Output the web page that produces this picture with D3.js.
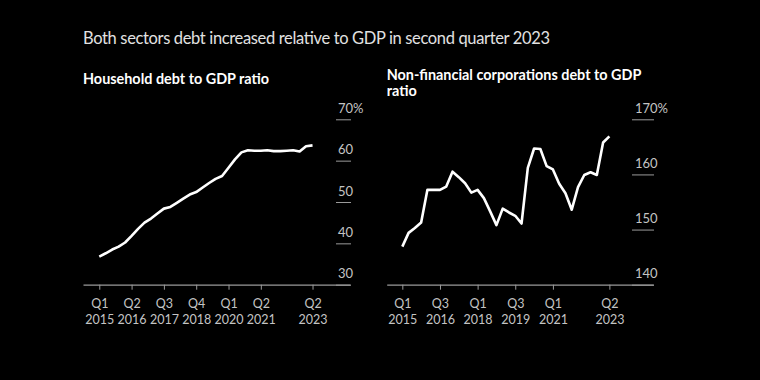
<!DOCTYPE html>
<html>
<head>
<meta charset="utf-8">
<script src="https://cdn.jsdelivr.net/npm/d3@7"></script>
<style>
  body { margin: 0; background: #000; }
  svg { display: block; font-family: Lato, "Noto Sans", sans-serif; }
</style>
</head>
<body>
<script>
// quarterly ratios, Q1 2015 .. Q2 2023 (34 quarters)
const household = [36.8, 37.6, 38.5, 39.2, 40.2, 41.8, 43.5, 45.0, 46.0, 47.2,
  48.4, 48.8, 49.8, 50.8, 51.8, 52.4, 53.5, 54.6, 55.6, 56.3,
  58.3, 60.3, 62.0, 62.5, 62.4, 62.4, 62.5, 62.3, 62.3, 62.4,
  62.5, 62.2, 63.5, 63.7];
const corporate = [146.9, 149.4, 150.3, 151.3, 157.2, 157.2, 157.2, 157.8, 160.5, 159.5,
  158.4, 156.7, 157.2, 155.7, 153.3, 150.8, 153.8, 153.1, 152.5, 151.1,
  161.2, 164.7, 164.6, 161.5, 160.9, 158.3, 156.6, 153.6, 157.7, 159.9,
  160.4, 159.9, 165.8, 166.9];

const householdTicks = [0, 5, 10, 15, 20, 25, 33];
const householdTickLabels = [["Q1", "2015"], ["Q2", "2016"], ["Q3", "2017"], ["Q4", "2018"], ["Q1", "2020"], ["Q2", "2021"], ["Q2", "2023"]];
const corporateTicks = [0, 6, 12, 18, 24, 33];
const corporateTickLabels = [["Q1", "2015"], ["Q3", "2016"], ["Q1", "2018"], ["Q3", "2019"], ["Q1", "2021"], ["Q2", "2023"]];
const householdY = [30, 40, 50, 60, 70];
const corporateY = [140, 150, 160, 170];

const svg = d3.select("body").append("svg")
  .attr("width", 760).attr("height", 380);
svg.append("rect").attr("width", 760).attr("height", 380).attr("fill", "#000");

svg.append("text")
  .attr("x", 83).attr("y", 44)
  .attr("fill", "#e2e2e2")
  .attr("textLength", 467).attr("lengthAdjust", "spacing")
  .style("font-size", "16.5px")
  .text("Both sectors debt increased relative to GDP in second quarter 2023");

function panel(cfg) {
  const g = svg.append("g");
  const x = d3.scaleLinear().domain(cfg.xDomain).range(cfg.xRange);
  const y = d3.scaleLinear().domain(cfg.yDomain).range([284.7, 119.3]);

  // title
  const t = g.append("text")
    .attr("x", cfg.xRange[0]).attr("y", cfg.titleY)
    .attr("fill", "#fff")
    .style("font-size", "14.4px").style("font-weight", "bold");
  cfg.title.forEach((line, i) => {
    t.append("tspan").attr("x", cfg.xRange[0]).attr("dy", i ? 15.5 : 0).text(line);
  });

  // y gridlines + labels
  const yAxis = g.append("g")
    .attr("transform", `translate(${cfg.gridX},0)`)
    .call(d3.axisRight(y).tickValues(cfg.yTicks).tickSize(cfg.gridW).tickFormat((d, i) =>
      i === cfg.yTicks.length - 1 ? d + "%" : d));
  yAxis.select(".domain").remove();
  yAxis.selectAll("line").attr("stroke", "#9a9a9a");
  yAxis.selectAll("text")
    .attr("x", cfg.labelDx).attr("dy", -7)
    .attr("text-anchor", "start")
    .attr("fill", "#c4c4c4")
    .style("font-size", "13px").style("font-family", "Lato, sans-serif");

  // x axis
  const xAxis = g.append("g")
    .attr("transform", "translate(0,284.7)")
    .call(d3.axisBottom(x).tickValues(cfg.xTicks).tickSize(5).tickSizeOuter(0).tickFormat(""));
  xAxis.select(".domain").attr("stroke", "#9a9a9a").attr("stroke-width", 1.2);
  xAxis.selectAll("line").attr("stroke", "#9a9a9a");
  xAxis.selectAll(".tick").each(function (d, i) {
    const txt = d3.select(this).append("text")
      .attr("fill", "#c4c4c4")
      .attr("text-anchor", "middle")
      .style("font-size", "12.5px").style("font-family", "Lato, sans-serif");
    cfg.xLabels[i].forEach((line, k) => {
      txt.append("tspan").attr("x", 0).attr("y", 23 + k * 16).text(line);
    });
  });

  // line
  g.append("path")
    .datum(cfg.values)
    .attr("fill", "none")
    .attr("stroke", "#fff")
    .attr("stroke-width", 2.6)
    .attr("stroke-linejoin", "round")
    .attr("d", d3.line().x((d, i) => x(i)).y(d => y(d)));
}

panel({
  title: ["Household debt to GDP ratio"], titleY: 84,
  xDomain: [-2.52, 38.8], xRange: [83, 350],
  yDomain: [30, 70], yTicks: householdY,
  gridX: 336, gridW: 15, labelDx: 2,
  xTicks: householdTicks, xLabels: householdTickLabels,
  values: household
});

panel({
  title: ["Non-financial corporations debt to GDP", "ratio"], titleY: 80,
  xDomain: [-2.49, 40.0], xRange: [386.7, 653.3],
  yDomain: [140, 170], yTicks: corporateY,
  gridX: 632, gridW: 22, labelDx: 3,
  xTicks: corporateTicks, xLabels: corporateTickLabels,
  values: corporate
});
</script>
</body>
</html>
